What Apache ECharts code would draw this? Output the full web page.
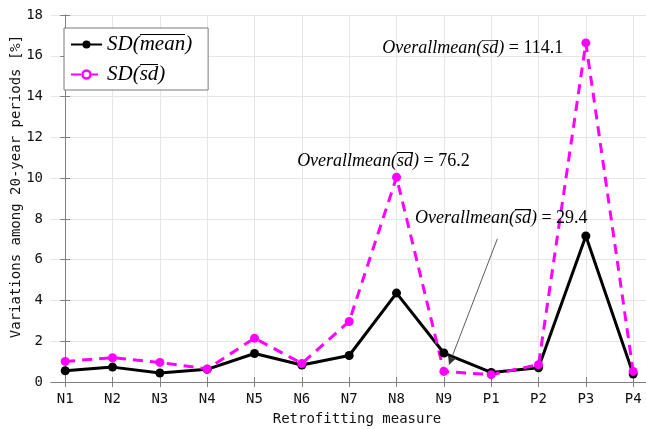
<!DOCTYPE html>
<html><head><meta charset="utf-8">
<script src="https://cdn.jsdelivr.net/npm/echarts@6/dist/echarts.min.js"></script>
<style>html,body{margin:0;padding:0;background:#fff}#c{width:646px;height:429px}</style>
</head><body><div id="c"></div>
<script>
const categories = ['N1','N2','N3','N4','N5','N6','N7','N8','N9','P1','P2','P3','P4'];
const sdMean = [0.55,0.73,0.44,0.62,1.40,0.83,1.30,4.36,1.42,0.47,0.70,7.16,0.39];
const sdSd   = [1.01,1.19,0.96,0.64,2.15,0.91,2.97,10.04,0.52,0.36,0.85,16.63,0.52];
const yTicks = [0,2,4,6,8,10,12,14,16,18];
const seriesNames = ['SD(mean)', 'SD(sd)'];
const legendParts = {'SD(mean)':['SD(','mean',')'], 'SD(sd)':['SD(','sd',')']};
// annotations: [value text, anchor x (category index), anchor y]
const annotations = [
  [' = 114.1', 6.70, 16.35],
  [' = 76.2', 4.90, 10.84],
  [' = 29.4', 7.39, 8.02]
];
const arrowFrom = [9.13, 7.02];
const arrowTo = [8.11, 0.85];

// overline image: a thin bar at the top of a transparent box
const bar = document.createElement('canvas');
bar.width = 4; bar.height = 40;
const bctx = bar.getContext('2d');
bctx.fillStyle = '#000'; bctx.fillRect(0,0,4,2);

const idx = categories.map((c,i)=>i);
const chart = echarts.init(document.getElementById('c'));
const axisColor = '#808080';
const mono = 'DejaVu Sans Mono';
const serif = 'Liberation Serif';
const lf = 21;
const legendRich = {
  a:{fontFamily:serif, fontStyle:'italic', fontSize:lf, color:'#000', lineHeight:22},
  o:{fontFamily:serif, fontStyle:'italic', fontSize:lf, color:'#000', lineHeight:22, backgroundColor:{image:bar}}
};
chart.setOption({
  animation:false,
  grid:{left:51, right:-17, top:15, bottom:47, containLabel:false, outerBoundsMode:'none'},
  legend:{
    left:64, top:28, orient:'vertical', backgroundColor:'#fff', borderColor:'#7a7a7a', borderWidth:1,
    padding:[6,16,5,6], itemWidth:31, itemHeight:10, itemGap:9,
    formatter:n=>{const p=legendParts[n]; return '{a|'+p[0]+'}{o|'+p[1]+'}{a|'+p[2]+'}';},
    textStyle:{rich:legendRich},
    data: [{name:seriesNames[0]},
           {name:seriesNames[1], itemStyle:{color:'#fff', borderColor:'#ff00ff', borderWidth:2.5}}]
  },
  xAxis:[{
    type:'value', min:-0.3, max:12.63,
    name:'Retrofitting measure', nameLocation:'middle', nameGap:30,
    nameTextStyle:{fontFamily:mono, fontSize:14, color:'#111'},
    axisLine:{show:true, lineStyle:{color:axisColor}},
    axisTick:{show:true, inside:true, length:5, customValues:idx, lineStyle:{color:axisColor}},
    axisLabel:{customValues:idx, formatter:v=>categories[Math.round(v)], fontFamily:mono, fontSize:14, color:'#111', margin:10},
    splitLine:{show:true, lineStyle:{color:'#e6e6e6'}}
  },{
    type:'value', position:'top', min:-0.3, max:12.63,
    axisLine:{show:true, lineStyle:{color:axisColor}},
    axisTick:{show:true, inside:true, length:5, customValues:idx, lineStyle:{color:axisColor}},
    axisLabel:{show:false}, splitLine:{show:false}
  }],
  yAxis:[{
    type:'value', min:0, max:18, interval:2,
    name:'Variations among 20-year periods [%]', nameLocation:'middle', nameGap:28, nameMoveOverlap:false,
    nameTextStyle:{fontFamily:mono, fontSize:14, color:'#111', padding:[0,0,0,24]},
    axisLine:{show:true, lineStyle:{color:axisColor}},
    axisTick:{show:true, inside:true, length:5, lineStyle:{color:axisColor}},
    axisLabel:{fontFamily:mono, fontSize:14, color:'#111', margin:8, formatter:v=>yTicks.includes(v)?String(v):''},
    splitLine:{show:true, lineStyle:{color:'#e6e6e6'}}
  },{
    type:'value', position:'right', min:0, max:18, interval:2,
    axisLine:{show:true, lineStyle:{color:axisColor}},
    axisTick:{show:true, inside:true, length:5, lineStyle:{color:axisColor}},
    axisLabel:{show:false}, splitLine:{show:false}
  }],
  series:[{
    name:seriesNames[0], type:'line', data:sdMean.map((v,i)=>[i,v]),
    symbol:'circle', symbolSize:9,
    lineStyle:{color:'#000', width:3}, itemStyle:{color:'#000'}
  },{
    name:seriesNames[1], type:'line', data:sdSd.map((v,i)=>[i,v]),
    symbol:'circle', symbolSize:9,
    lineStyle:{color:'#ff00ff', width:3, type:[10,7]}, itemStyle:{color:'#ff00ff'},
    markLine:{
      silent:true, symbol:['none','arrow'], symbolSize:[7,9],
      lineStyle:{color:'#333', width:0.8, type:'solid'}, label:{show:false},
      data:[[{coord:arrowFrom},{coord:arrowTo}]]
    }
  }]
});
const af = 18;
const g = annotations.map(a=>{
  const p = chart.convertToPixel({xAxisIndex:0, yAxisIndex:0}, [a[1], a[2]]);
  return {type:'text', x:p[0], y:p[1], z:100, style:{
    text:'{i|Overallmean(}{o|sd}{i|)}{n|'+a[0]+'}', verticalAlign:'middle',
    rich:{i:{fontFamily:serif, fontStyle:'italic', fontSize:af, fill:'#000', lineHeight:19},
          o:{fontFamily:serif, fontStyle:'italic', fontSize:af, fill:'#000', lineHeight:19, backgroundColor:{image:bar}},
          n:{fontFamily:serif, fontSize:af, fill:'#000', lineHeight:19}}
  }};
});
chart.setOption({graphic:g});
</script></body></html>
